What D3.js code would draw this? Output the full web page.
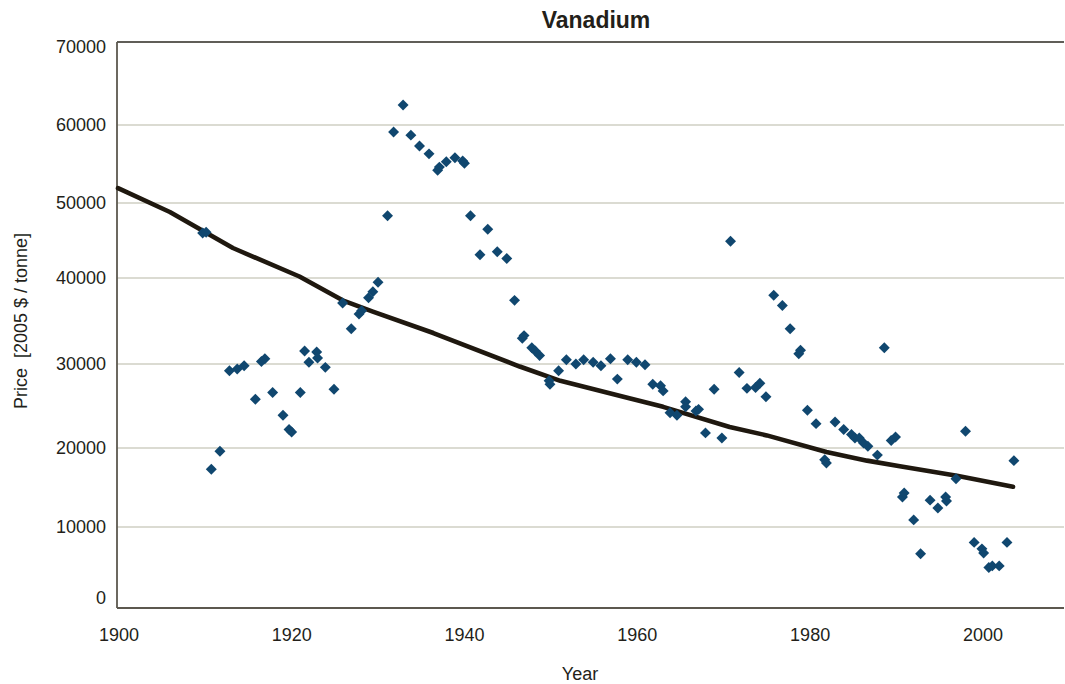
<!DOCTYPE html>
<html lang="en">
<head>
    <meta charset="utf-8" />
    <title>Vanadium</title>
    <script src="https://d3js.org/d3.v7.min.js"></script>
    <style>
        body { margin: 0; background: #fff; }
        text { font-family: "Liberation Sans", Arial, sans-serif; fill: #231f1a; }
    </style>
</head>
<body>
    <svg id="chart" width="1065" height="684"></svg>
    <script>
        // price observations (year, 2005 $ / tonne)
        const years = [1909.8, 1910.2, 1910.8, 1911.8, 1912.9, 1913.8, 1914.6, 1915.9, 1916.6, 1917.0,
            1917.9, 1919.1, 1919.8, 1920.1, 1921.1, 1921.6, 1922.1, 1923.0, 1923.1, 1924.0,
            1925.0, 1926.0, 1927.0, 1927.9, 1928.2, 1929.0, 1929.5, 1930.1, 1931.2, 1931.9,
            1933.0, 1933.9, 1934.9, 1936.0, 1937.0, 1937.2, 1938.0, 1939.0, 1939.9, 1940.1,
            1940.8, 1941.9, 1942.8, 1943.9, 1945.0, 1945.9, 1946.8, 1947.0, 1947.9, 1948.3,
            1948.8, 1949.9, 1950.0, 1951.0, 1951.9, 1953.0, 1953.9, 1955.0, 1955.9, 1957.0,
            1957.8, 1959.0, 1960.0, 1961.0, 1961.9, 1962.8, 1963.1, 1963.9, 1964.7, 1965.7,
            1965.7, 1966.9, 1967.2, 1968.0, 1969.0, 1969.9, 1970.9, 1971.9, 1972.8, 1973.8,
            1974.3, 1975.0, 1975.9, 1976.9, 1977.8, 1978.8, 1979.0, 1979.8, 1980.8, 1981.8,
            1982.0, 1983.0, 1984.0, 1984.9, 1985.3, 1985.8, 1986.3, 1986.8, 1987.9, 1988.7,
            1989.5, 1990.0, 1990.8, 1991.0, 1992.1, 1992.9, 1994.0, 1994.9, 1995.8, 1995.9,
            1997.0, 1998.1, 1999.1, 2000.0, 2000.2, 2000.8, 2001.2, 2002.0, 2002.9, 2003.7];
        const prices = [46000, 46100, 17300, 19600, 29200, 29400, 29800, 25800, 30300, 30600,
            26600, 23900, 22200, 21900, 26600, 31500, 30200, 31400, 30700, 29600,
            27000, 37100, 34100, 35800, 36200, 37700, 38400, 39500, 48300, 59100,
            62400, 58700, 57300, 56300, 54200, 54600, 55300, 55800, 55400, 55100,
            48300, 43100, 46500, 43500, 42600, 37400, 33000, 33300, 31900, 31500,
            31000, 28000, 27600, 29200, 30500, 30000, 30500, 30200, 29800, 30600,
            28200, 30500, 30200, 29900, 27600, 27400, 26800, 24200, 23900, 25500,
            24900, 24400, 24600, 21800, 27000, 21200, 44900, 29000, 27100, 27200,
            27700, 26100, 38000, 36800, 34100, 31200, 31600, 24500, 22900, 18500,
            18100, 23100, 22200, 21600, 21200, 21200, 20600, 20200, 19100, 31900,
            20900, 21300, 13800, 14300, 10900, 6700, 13400, 12400, 13800, 13300,
            16100, 22000, 8100, 7300, 6800, 5000, 5200, 5200, 8100, 18400];

        // trend curve
        const trendYears = [1900, 1906, 1913.3, 1921, 1926, 1929.5, 1936.5, 1946.5, 1951.2,
            1959.3, 1963.1, 1970.8, 1975.1, 1982, 1986.7, 1990.5, 1997.1, 2003.6];
        const trendPrices = [51900, 48800, 44000, 40200, 37400, 36100, 33600, 29700, 28000,
            25900, 24900, 22500, 21500, 19500, 18400, 17700, 16500, 15100];

        const xTicks = [1900, 1920, 1940, 1960, 1980, 2000];
        const yTicks = [0, 10000, 20000, 30000, 40000, 50000, 60000, 70000];

        const svg = d3.select("#chart");
        const plotLeft = 117, plotRight = 1064, plotTop = 42, plotBottom = 608;

        const x = d3.scaleLinear().domain([1900, 2009.5]).range([118, plotRight]);
        // the source grid is not evenly spaced, follow it band by band
        const y = d3.scaleLinear().domain(yTicks).range([608, 527, 448, 364, 278, 203, 125, 42]);

        // gridlines
        svg.append("g")
            .selectAll("line")
            .data(yTicks.slice(1, -1))
            .enter()
            .append("line")
            .attr("x1", plotLeft).attr("x2", plotRight)
            .attr("y1", d => y(d)).attr("y2", d => y(d))
            .attr("stroke", "#cfcfc3")
            .attr("stroke-width", 1.6);

        // frame: top, left, bottom
        svg.append("line")
            .attr("x1", plotLeft).attr("x2", plotRight).attr("y1", plotTop).attr("y2", plotTop)
            .attr("stroke", "#2b2820").attr("stroke-width", 1.6);
        svg.append("line")
            .attr("x1", plotLeft).attr("x2", plotLeft).attr("y1", plotTop).attr("y2", plotBottom)
            .attr("stroke", "#5c584f").attr("stroke-width", 1.8);
        svg.append("line")
            .attr("x1", plotLeft).attr("x2", plotRight).attr("y1", plotBottom).attr("y2", plotBottom)
            .attr("stroke", "#5c584f").attr("stroke-width", 1.8);

        // y tick labels
        svg.append("g")
            .selectAll("text")
            .data(yTicks)
            .enter()
            .append("text")
            .attr("x", 106)
            .attr("y", d => Math.max(47, Math.min(598, y(d))))
            .attr("dy", "0.36em")
            .attr("text-anchor", "end")
            .attr("font-size", 18)
            .text(d => d);

        // x tick labels
        svg.append("g")
            .selectAll("text")
            .data(xTicks)
            .enter()
            .append("text")
            .attr("x", d => x(d) + 1)
            .attr("y", 641)
            .attr("text-anchor", "middle")
            .attr("font-size", 18)
            .text(d => d);

        // trend line
        const trend = trendYears.map((t, i) => [t, trendPrices[i]]);
        svg.append("path")
            .datum(trend)
            .attr("fill", "none")
            .attr("stroke", "#1f180f")
            .attr("stroke-width", 4.6)
            .attr("stroke-linejoin", "round")
            .attr("stroke-linecap", "round")
            .attr("d", d3.line().x(d => x(d[0])).y(d => y(d[1])));

        // scatter points as diamonds
        const pts = years.map((t, i) => [t, prices[i]]);
        svg.append("g")
            .selectAll("path")
            .data(pts)
            .enter()
            .append("path")
            .attr("d", d3.symbol(d3.symbolSquare, 60))
            .attr("transform", d => "translate(" + x(d[0]) + "," + y(d[1]) + ") rotate(45)")
            .attr("fill", "#10476f");

        // titles
        svg.append("text")
            .attr("x", 596).attr("y", 28)
            .attr("text-anchor", "middle")
            .attr("font-weight", "bold")
            .attr("font-size", 23)
            .text("Vanadium");

        svg.append("text")
            .attr("x", 580).attr("y", 680)
            .attr("text-anchor", "middle")
            .attr("font-size", 18)
            .text("Year");

        svg.append("text")
            .attr("transform", "translate(27,321) rotate(-90)")
            .attr("text-anchor", "middle")
            .attr("font-size", 18)
            .attr("xml:space", "preserve")
            .text("Price  [2005 $ / tonne]");
    </script>
</body>
</html>
